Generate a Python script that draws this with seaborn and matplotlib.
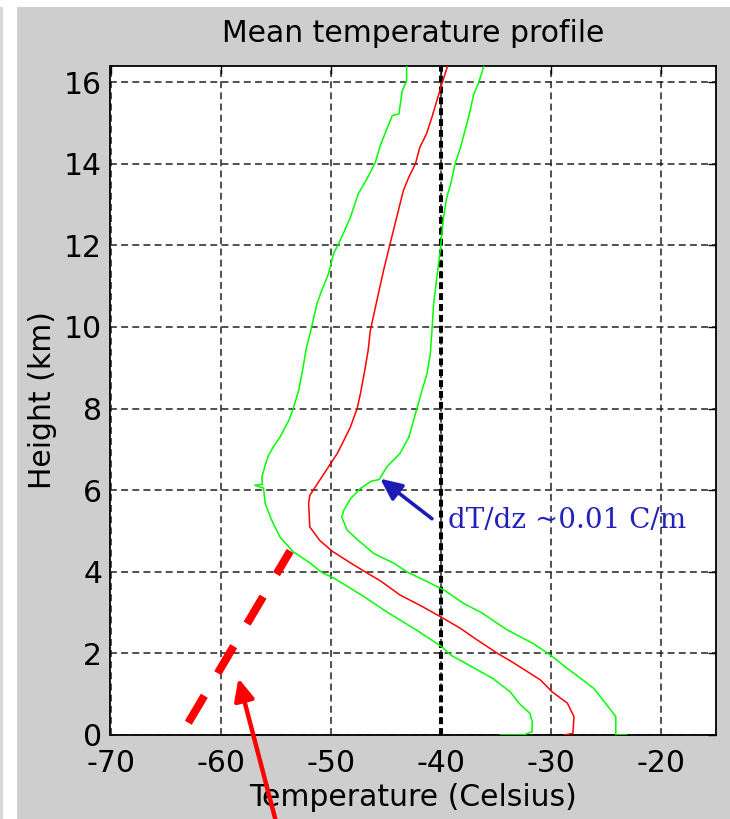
import matplotlib
matplotlib.use("Agg")
import matplotlib.pyplot as plt
from matplotlib.patches import Rectangle
import pandas as pd
import seaborn as sns

# Mean temperature profile (red), heights in km and temperatures in deg C
mean_height_km = [0.0, 0.04, 0.45, 0.78, 1.06, 1.35, 1.77, 2.01, 2.33, 2.61, 2.88,
                  3.18, 3.43, 3.78, 3.97, 4.2, 4.51, 4.77, 5.1, 5.67, 5.87, 6.2,
                  6.57, 6.9, 7.22, 7.55, 8.0, 8.36, 8.94, 9.42, 9.91, 10.65, 11.38,
                  12.04, 12.69, 13.34, 13.67, 14.0, 14.4, 14.73, 15.14, 15.55,
                  15.95, 16.38]
mean_temp_c = [-28.8, -28.0, -27.9, -28.5, -29.9, -30.95, -33.4, -34.9, -36.7,
               -38.2, -39.9, -41.9, -43.7, -45.5, -46.7, -48.1, -49.9, -51.0,
               -51.9, -52.0, -51.9, -51.1, -50.2, -49.4, -48.8, -48.2, -47.6,
               -47.3, -46.9, -46.6, -46.4, -45.8, -45.2, -44.6, -44.0, -43.4,
               -42.9, -42.3, -41.9, -41.3, -40.8, -40.35, -39.9, -39.4]

# Mean minus one standard deviation (left green)
low_height_km = [0.0, 0.0, 0.08, 0.33, 0.53, 0.78, 1.06, 1.39, 1.69, 1.96, 2.16,
                 2.57, 2.99, 3.43, 3.85, 3.98, 4.22, 4.49, 4.85, 5.26, 5.67, 6.05,
                 6.12, 6.14, 6.32, 6.61, 6.85, 7.06, 7.3, 7.71, 8.0, 8.45, 9.02,
                 9.5, 9.91, 10.57, 10.9, 11.3, 11.79, 12.03, 12.32, 12.69, 13.26,
                 13.63, 14.03, 14.44, 14.85, 15.18, 15.22, 15.79, 16.03, 16.38]
low_temp_c = [-34.6, -32.5, -31.7, -31.7, -31.9, -32.9, -33.7, -35.3, -37.3,
              -39.1, -39.9, -42.2, -44.75, -47.2, -49.75, -50.8, -51.9, -53.4,
              -54.6, -55.35, -55.95, -56.1, -56.9, -56.2, -56.25, -55.95, -55.65,
              -55.2, -54.6, -53.8, -53.4, -52.9, -52.5, -52.2, -51.8, -51.25,
              -50.8, -50.2, -49.75, -49.3, -48.8, -48.2, -47.5, -46.7, -45.95,
              -45.5, -44.9, -44.4, -43.8, -43.5, -43.1, -43.1]

# Mean plus one standard deviation (right green)
high_height_km = [0.0, 0.0, 0.45, 0.73, 1.14, 1.39, 1.63, 1.96, 2.24, 2.58, 2.99,
                  3.22, 3.55, 3.78, 4.0, 4.2, 4.45, 4.77, 5.02, 5.34, 5.51, 5.79,
                  6.04, 6.17, 6.22, 6.26, 6.57, 6.9, 7.3, 7.87, 8.45, 8.85, 9.34,
                  9.91, 10.57, 11.22, 11.87, 12.28, 12.69, 13.18, 13.5, 14.0, 14.4,
                  14.81, 15.22, 15.71, 15.95, 16.38]
high_temp_c = [-23.1, -24.1, -24.1, -24.9, -26.1, -27.3, -28.5, -30.05, -31.6,
               -34.0, -36.25, -37.9, -39.7, -41.4, -43.1, -44.2, -46.1, -47.5,
               -48.5, -49.0, -48.8, -48.2, -47.3, -46.6, -46.3, -45.6, -44.9,
               -43.7, -42.9, -42.3, -41.7, -41.25, -40.95, -40.8, -40.65, -40.35,
               -40.05, -39.9, -39.75, -39.45, -39.1, -38.7, -38.2, -37.8, -37.4,
               -37.0, -36.6, -36.1]

x_ticks = [-70, -60, -50, -40, -30, -20]
y_ticks = [0, 2, 4, 6, 8, 10, 12, 14, 16]

# Annotation geometry (data coordinates)
surface_lapse_line = ([-62.93, -53.68], [0.30, 4.51])
red_arrow_tail, red_arrow_tip = (-54.7, -2.4), (-58.38, 1.39)
blue_arrow_tail, blue_arrow_tip = (-40.8, 5.30), (-45.5, 6.28)
note_text = "dT/dz ~0.01 C/m"

sns.set_style("white")
plt.rcParams["font.family"] = ["DejaVu Sans"]
plt.rcParams["axes.unicode_minus"] = False
plt.rcParams["text.color"] = "black"
plt.rcParams["axes.labelcolor"] = "black"

W, H = 730, 819
fig = plt.figure(figsize=(W / 100, H / 100), dpi=100, facecolor="#cecece")
# light frame strips along the left and top edges
fig.patches.append(Rectangle((0, 0), 17 / W, 1, transform=fig.transFigure,
                             facecolor="white", edgecolor="none", zorder=0))
fig.patches.append(Rectangle((0, 0), 3 / W, 1, transform=fig.transFigure,
                             facecolor="#d6d6d6", edgecolor="none", zorder=0))
fig.patches.append(Rectangle((0, 1 - 7 / H), 1, 7 / H, transform=fig.transFigure,
                             facecolor="white", edgecolor="none", zorder=0))

left, right, top, bottom = 110.5, 716, 65.7, 735
ax = fig.add_axes([left / W, (H - bottom) / H, (right - left) / W, (bottom - top) / H])
ax.set_facecolor("white")

profiles = pd.concat([
    pd.DataFrame({"T": mean_temp_c, "z": mean_height_km, "curve": "mean"}),
    pd.DataFrame({"T": low_temp_c, "z": low_height_km, "curve": "low"}),
    pd.DataFrame({"T": high_temp_c, "z": high_height_km, "curve": "high"}),
])
palette = {"mean": "#ff0000", "low": "#00ff00", "high": "#00ff00"}
for name, grp in profiles.groupby("curve", sort=False):
    sns.lineplot(data=grp, x="T", y="z", sort=False, estimator=None,
                 color=palette[name], lw=1.1, ax=ax, zorder=3, legend=False)

ax.set_xlim(-70, -15)
ax.set_ylim(0, 16.4)
ax.set_xticks(x_ticks)
ax.set_yticks(y_ticks)
ax.set_axisbelow(True)
ax.grid(True, color="#202020", lw=1.1, ls=(0, (4.5, 2.8)))
ax.axvline(-40, color="black", lw=2.9, ls=(0, (1.7, 1.0)), zorder=2)

for s in ax.spines.values():
    s.set_color("black")
    s.set_linewidth(1.3)
ax.tick_params(direction="in", length=6, width=1, top=True, right=True,
               labelsize=21.5, colors="black")
ax.tick_params(axis="x", pad=10)
ax.tick_params(axis="y", pad=6)

ax.set_title("Mean temperature profile", fontsize=21.5, pad=17, color="black")
ax.set_xlabel("Temperature (Celsius)", fontsize=21.5, labelpad=4)
ax.set_ylabel("Height (km)", fontsize=21.5, labelpad=5)

# dry-adiabatic reference near the surface
ax.plot(*surface_lapse_line, color="#ff0000", lw=5.8, ls=(0, (3.9, 3.25)),
        dash_capstyle="butt", clip_on=False, zorder=4)

ax.annotate("", xy=red_arrow_tip, xytext=red_arrow_tail, annotation_clip=False,
            arrowprops=dict(arrowstyle="-|>,head_length=13,head_width=6",
                            mutation_scale=1, color="#ff0000", lw=3.2,
                            shrinkA=0, shrinkB=0), zorder=5)
ax.annotate("", xy=blue_arrow_tip, xytext=blue_arrow_tail, annotation_clip=False,
            arrowprops=dict(arrowstyle="-|>,head_length=13,head_width=6",
                            mutation_scale=1, color="#1c1cb4", lw=2.6,
                            shrinkA=0, shrinkB=0), zorder=5)
ax.text(-39.3, 5.26, note_text, color="#2222bb", fontsize=20,
        family=["DejaVu Serif"], ha="left", va="center", zorder=5)

fig.savefig("out.png", dpi=100, facecolor=fig.get_facecolor())
